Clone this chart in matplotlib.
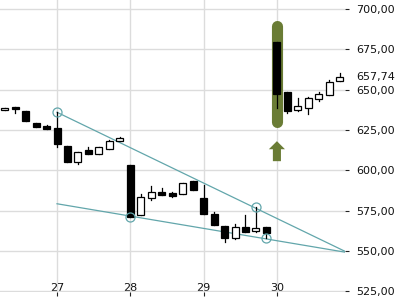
import matplotlib.pyplot as plt
from matplotlib.ticker import FuncFormatter

# hourly candles, 7 per day, first one at 26 + 2/7
opens  = [637.3, 639.5, 636.9, 629.4, 627.8, 626.3, 615.2, 604.9, 612.7, 610.1, 613.1, 617.9,
          603.4, 572.3, 582.8, 586.7, 585.9, 585.3, 593.1, 582.8, 573.1, 565.7, 558.1, 564.9,
          562.4, 565.0, 679.8, 648.8, 637.3, 638.5, 644.5, 646.6, 655.2]
highs  = [638.6, 639.5, 636.9, 629.4, 628.4, 636.0, 615.2, 611.5, 614.6, 614.4, 618.9, 620.8,
          603.4, 585.5, 590.4, 589.2, 586.9, 592.3, 593.1, 591.0, 573.9, 565.7, 566.9, 572.5,
          577.2, 565.0, 679.8, 648.8, 644.9, 645.3, 648.4, 656.0, 660.4]
lows   = [637.2, 635.4, 630.5, 626.8, 625.5, 614.4, 605.1, 604.0, 610.1, 610.1, 613.1, 617.9,
          571.0, 572.3, 581.8, 585.0, 583.8, 585.3, 588.0, 572.7, 565.9, 555.3, 557.4, 561.8,
          561.8, 558.1, 638.9, 635.8, 636.7, 635.2, 643.2, 646.6, 655.2]
closes = [638.5, 638.1, 630.5, 626.8, 625.5, 616.2, 605.1, 611.5, 610.1, 614.4, 618.3, 620.0,
          571.4, 583.4, 586.7, 585.0, 584.4, 592.3, 588.0, 572.7, 565.9, 558.1, 565.2, 561.8,
          564.4, 560.9, 647.6, 636.7, 640.0, 644.7, 647.2, 654.6, 657.74]
first_day = 27
first_day_index = 5
per_day = 7
day_ticks = [27, 28, 29, 30]
price_ticks = [525, 550, 575, 600, 625, 650, 675, 700]

# trend lines (x in days, y in price)
upper_x = [27, 30.93]
upper_y = [636.0, 549.8]
lower_x = [27, 30.93]
lower_y = [579.3, 549.3]
touch_idx = [5, 24]      # highs touching upper line
touch_low_idx = [12, 25]  # lows touching lower line
highlight_idx = 26

xs = [first_day + (i - first_day_index) / per_day for i in range(len(opens))]

teal = '#62a6ab'
green = '#6a7c35'

fig = plt.figure(figsize=(4, 3), dpi=100)
ax = fig.add_axes([0, 0.0277, 0.8625, 0.9723])

# highlight bar and arrow
hx = xs[highlight_idx]
ax.plot([hx, hx], [highs[highlight_idx] + 9.5, lows[highlight_idx] - 9.0],
        color=green, lw=8, solid_capstyle='round', zorder=1)
tip = lows[highlight_idx] - 20.8
ax.fill([hx, hx + 0.11, hx + 0.055, hx + 0.055, hx - 0.055, hx - 0.055, hx - 0.11],
        [tip, tip - 5.0, tip - 5.0, tip - 12.4, tip - 12.4, tip - 5.0, tip - 5.0],
        color=green, lw=0, zorder=1)

# trend lines
ax.plot(upper_x, upper_y, color=teal, lw=0.9, zorder=2)
ax.plot(lower_x, lower_y, color=teal, lw=0.9, zorder=2)

# candles
w = 0.095
for x, o, h, l, c in zip(xs, opens, highs, lows, closes):
    ax.plot([x, x], [l, h], color='black', lw=0.9, zorder=3)
    face = 'white' if c > o else 'black'
    ax.bar(x, abs(c - o), width=w, bottom=min(o, c), color=face,
           edgecolor='black', linewidth=0.9, zorder=4)

# touch circles
ax.plot([xs[i] for i in touch_idx], [highs[i] for i in touch_idx], 'o', ms=6.5,
        mfc='none', mec=teal, mew=0.9, zorder=5)
ax.plot([xs[i] for i in touch_low_idx], [lows[i] for i in touch_low_idx], 'o', ms=6.5,
        mfc='none', mec=teal, mew=0.9, zorder=5)

ax.set_xlim(26.222, 30.929)
ax.set_ylim(524.8, 705.6)
ax.set_xticks(day_ticks)
ax.set_xticklabels([str(d) for d in day_ticks])
ax.set_yticks(price_ticks)
ax.yaxis.set_major_formatter(FuncFormatter(lambda v, p: f'{v:.2f}'.replace('.', ',')))
ax.yaxis.tick_right()
ax.grid(True, color='#dcdcdc', lw=1)
ax.set_axisbelow(True)
for s in ax.spines.values():
    s.set_visible(False)
ax.tick_params(axis='y', direction='out', length=3, width=0.8, color='#222',
               labelsize=8, labelcolor='#111', pad=5)
ax.tick_params(axis='x', direction='out', length=3, width=0.8, color='#222',
               labelsize=8, labelcolor='#111', pad=-9.5)

last = closes[-1]
ax.text(1.0, last, f'{last:.2f}'.replace('.', ','), transform=ax.get_yaxis_transform(),
        ha='left', va='center', fontsize=8, color='#111', clip_on=False,
        bbox=dict(facecolor='white', edgecolor='none', pad=1.5),
        zorder=10).set_x(1.0 + 11 / 345)

fig.savefig('out.png', dpi=100, facecolor='white')
